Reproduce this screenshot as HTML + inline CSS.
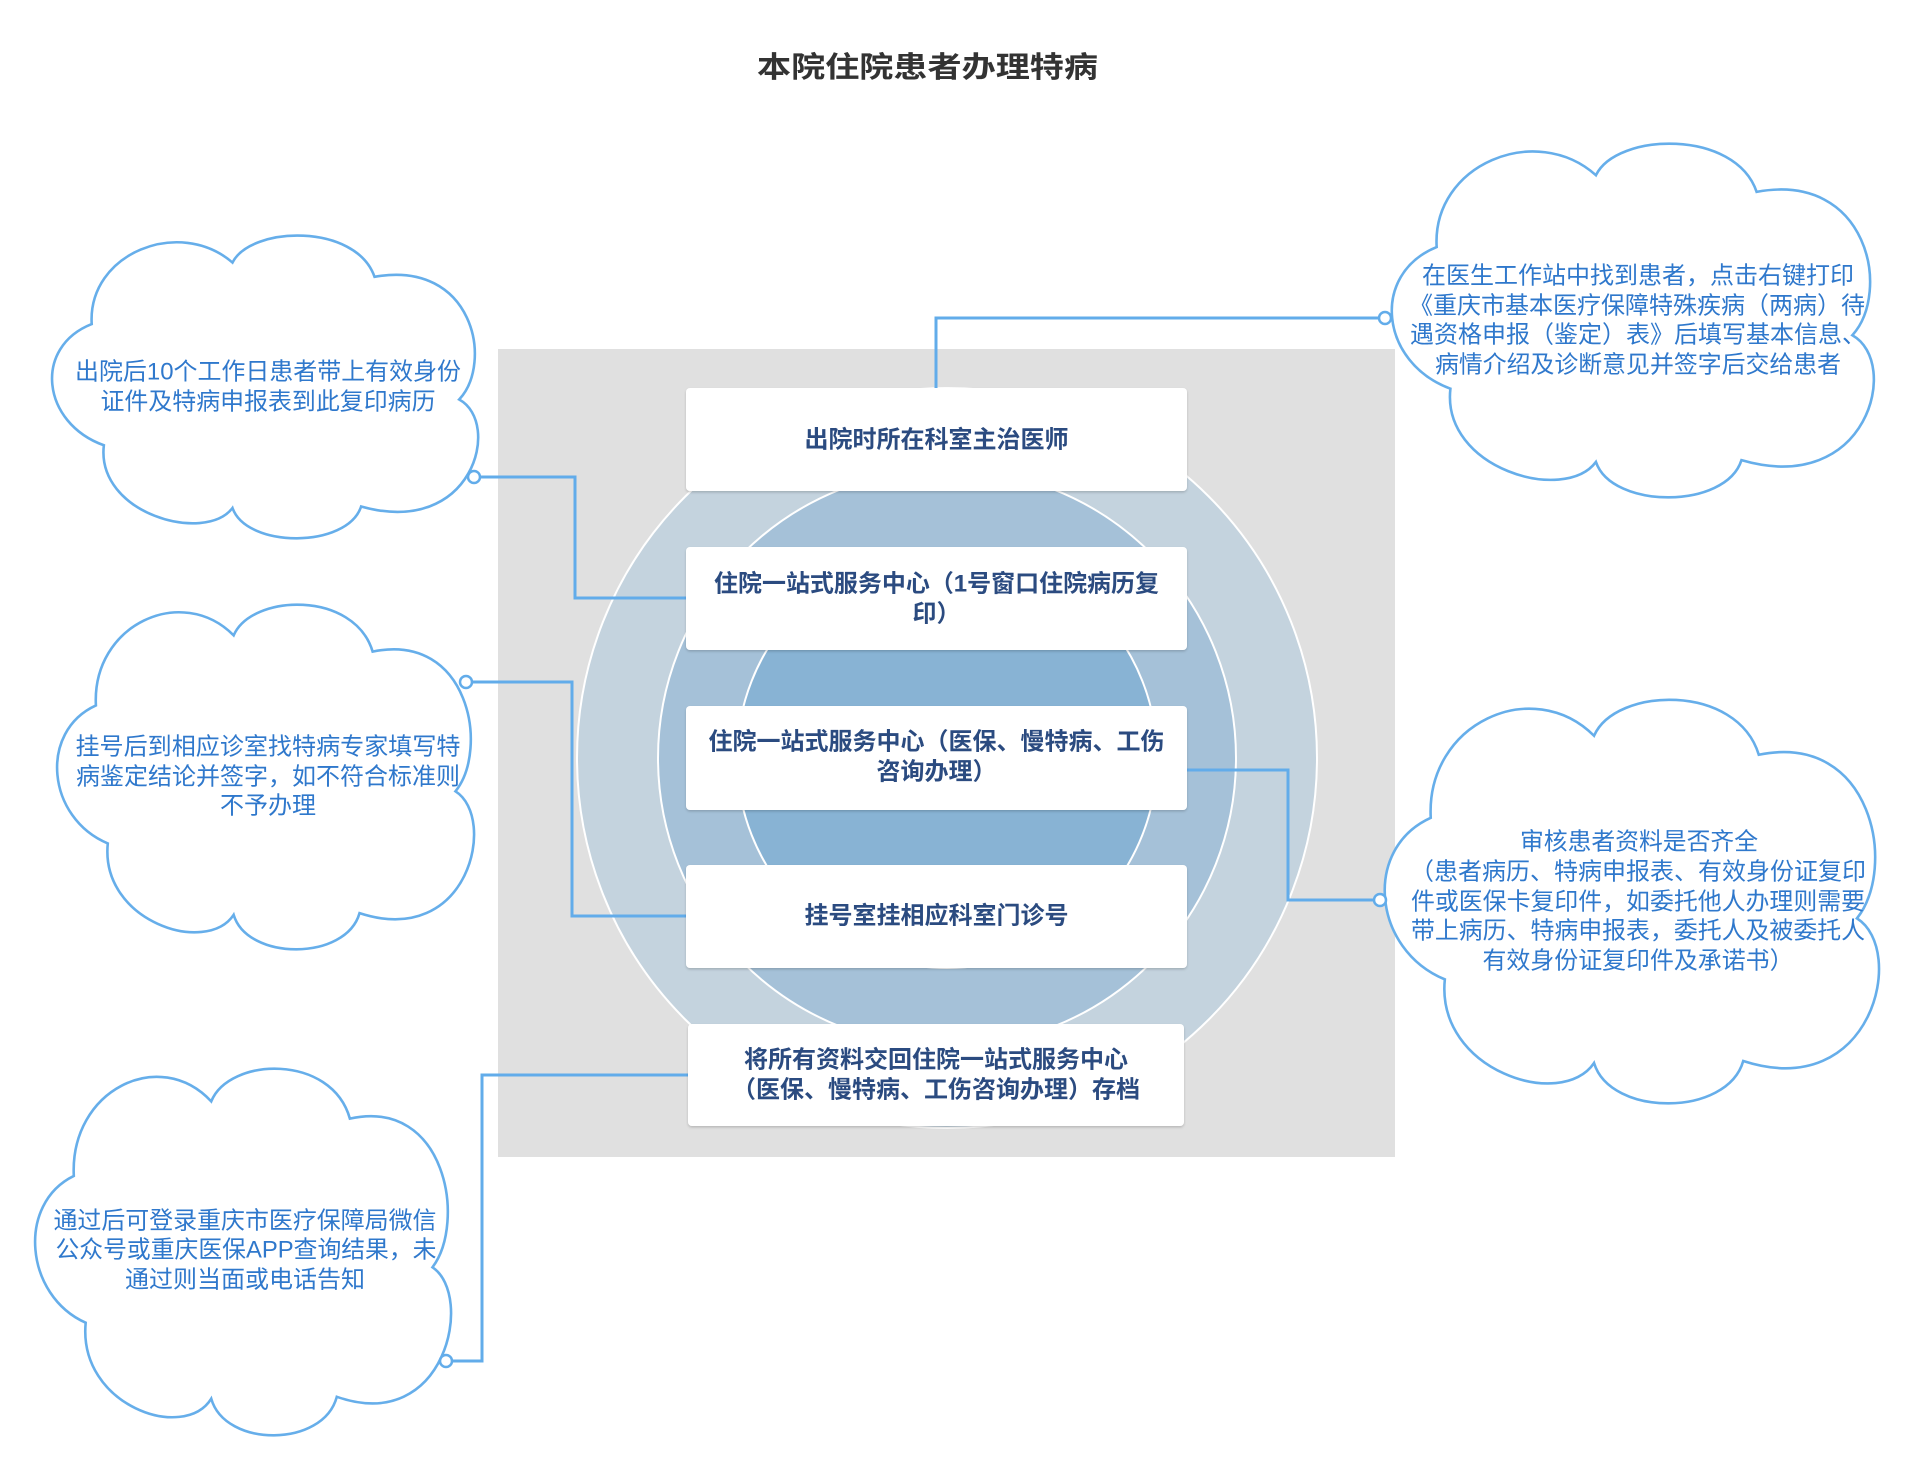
<!DOCTYPE html>
<html><head><meta charset="utf-8"><style>
html,body{margin:0;padding:0;background:#fff;}
body{width:1924px;height:1472px;overflow:hidden;}
svg text{font-family:"Liberation Sans","Noto Sans CJK SC","WenQuanYi Zen Hei",sans-serif;}
.ct{fill:#2f78cc;font-size:24px;text-anchor:middle;dominant-baseline:central;}
.bt{fill:#2b4b80;font-size:24px;font-weight:bold;text-anchor:middle;dominant-baseline:central;}
.cl{fill:#fff;stroke:#66aeea;stroke-width:2.6;}
.cn{fill:none;stroke:#62acea;stroke-width:3;}
.dot{fill:#fff;stroke:#62acea;stroke-width:2.5;}
</style></head><body>
<svg width="1924" height="1472" viewBox="0 0 1924 1472" xmlns="http://www.w3.org/2000/svg">
<defs>
<filter id="sh" x="-5%" y="-10%" width="110%" height="125%">
<feDropShadow dx="0" dy="1.5" stdDeviation="1.2" flood-color="#000" flood-opacity="0.18"/>
</filter>
</defs>

<!-- title -->
<text x="927.5" y="68" font-size="29" font-weight="bold" fill="#333" text-anchor="middle" dominant-baseline="central" textLength="341" lengthAdjust="spacingAndGlyphs">本院住院患者办理特病</text>

<!-- gray background -->
<rect x="498" y="349" width="897" height="808" fill="#e0e0e0"/>

<!-- rings -->
<circle cx="947" cy="758" r="370" fill="#c4d3de" stroke="#fff" stroke-width="2"/>
<circle cx="947" cy="758" r="289" fill="#a5c1d8" stroke="#fff" stroke-width="2"/>
<circle cx="947" cy="758" r="210" fill="#88b3d4" stroke="#fff" stroke-width="2"/>

<!-- connectors -->
<polyline class="cn" points="1379,318 936,318 936,388"/>
<polyline class="cn" points="480,477 575,477 575,598 686,598"/>
<polyline class="cn" points="472,682 572,682 572,916 686,916"/>
<polyline class="cn" points="452,1361 482,1361 482,1075 688,1075"/>
<polyline class="cn" points="1374,900 1288,900 1288,770 1187,770"/>

<!-- boxes -->
<g filter="url(#sh)" fill="#fff">
<rect x="686" y="388" width="501" height="103" rx="4"/>
<rect x="686" y="547" width="501" height="103" rx="4"/>
<rect x="686" y="706" width="501" height="104" rx="4"/>
<rect x="686" y="865" width="501" height="103" rx="4"/>
<rect x="688" y="1024" width="496" height="102" rx="4"/>
</g>
<text class="bt" x="936.5" y="440" textLength="264" lengthAdjust="spacingAndGlyphs">出院时所在科室主治医师</text>
<text class="bt" x="936.5" y="584" textLength="445" lengthAdjust="spacingAndGlyphs">住院一站式服务中心（1号窗口住院病历复</text>
<text class="bt" x="936.5" y="614" textLength="48" lengthAdjust="spacingAndGlyphs">印）</text>
<text class="bt" x="936.5" y="742" textLength="456" lengthAdjust="spacingAndGlyphs">住院一站式服务中心（医保、慢特病、工伤</text>
<text class="bt" x="936.5" y="772" textLength="120" lengthAdjust="spacingAndGlyphs">咨询办理）</text>
<text class="bt" x="936.5" y="916" textLength="264" lengthAdjust="spacingAndGlyphs">挂号室挂相应科室门诊号</text>
<text class="bt" x="936" y="1060" textLength="384" lengthAdjust="spacingAndGlyphs">将所有资料交回住院一站式服务中心</text>
<text class="bt" x="936" y="1090" textLength="408" lengthAdjust="spacingAndGlyphs">（医保、慢特病、工伤咨询办理）存档</text>

<!-- clouds -->
<g transform="translate(54,235) scale(419,303)"><path d="M 0.09 0.294 C 0.08 0.06 0.30 -0.06 0.426 0.091 C 0.47 -0.03 0.72 -0.04 0.765 0.138 C 1.0 0.08 1.05 0.42 0.967 0.543 C 1.07 0.62 1.0 1.0 0.733 0.896 C 0.70 1.035 0.46 1.035 0.426 0.901 C 0.36 1.02 0.10 0.92 0.119 0.694 C -0.03 0.62 -0.05 0.37 0.09 0.294 Z" class="cl" vector-effect="non-scaling-stroke"/></g>
<g transform="translate(59,604) scale(410,345)"><path d="M 0.09 0.294 C 0.08 0.06 0.30 -0.06 0.426 0.091 C 0.47 -0.03 0.72 -0.04 0.765 0.138 C 1.0 0.08 1.05 0.42 0.967 0.543 C 1.07 0.62 1.0 1.0 0.733 0.896 C 0.70 1.035 0.46 1.035 0.426 0.901 C 0.36 1.02 0.10 0.92 0.119 0.694 C -0.03 0.62 -0.05 0.37 0.09 0.294 Z" class="cl" vector-effect="non-scaling-stroke"/></g>
<g transform="translate(37,1068) scale(409,367)"><path d="M 0.09 0.294 C 0.08 0.06 0.30 -0.06 0.426 0.091 C 0.47 -0.03 0.72 -0.04 0.765 0.138 C 1.0 0.08 1.05 0.42 0.967 0.543 C 1.07 0.62 1.0 1.0 0.733 0.896 C 0.70 1.035 0.46 1.035 0.426 0.901 C 0.36 1.02 0.10 0.92 0.119 0.694 C -0.03 0.62 -0.05 0.37 0.09 0.294 Z" class="cl" vector-effect="non-scaling-stroke"/></g>
<g transform="translate(1394,143) scale(474,354)"><path d="M 0.09 0.294 C 0.08 0.06 0.30 -0.06 0.426 0.091 C 0.47 -0.03 0.72 -0.04 0.765 0.138 C 1.0 0.08 1.05 0.42 0.967 0.543 C 1.07 0.62 1.0 1.0 0.733 0.896 C 0.70 1.035 0.46 1.035 0.426 0.901 C 0.36 1.02 0.10 0.92 0.119 0.694 C -0.03 0.62 -0.05 0.37 0.09 0.294 Z" class="cl" vector-effect="non-scaling-stroke"/></g>
<g transform="translate(1387,699) scale(486,404)"><path d="M 0.09 0.294 C 0.08 0.06 0.30 -0.06 0.426 0.091 C 0.47 -0.03 0.72 -0.04 0.765 0.138 C 1.0 0.08 1.05 0.42 0.967 0.543 C 1.07 0.62 1.0 1.0 0.733 0.896 C 0.70 1.035 0.46 1.035 0.426 0.901 C 0.36 1.02 0.10 0.92 0.119 0.694 C -0.03 0.62 -0.05 0.37 0.09 0.294 Z" class="cl" vector-effect="non-scaling-stroke"/></g>

<!-- cloud texts -->
<text class="ct" x="268" y="372" textLength="386" lengthAdjust="spacingAndGlyphs">出院后10个工作日患者带上有效身份</text>
<text class="ct" x="268" y="402" textLength="335" lengthAdjust="spacingAndGlyphs">证件及特病申报表到此复印病历</text>

<text class="ct" x="268" y="747" textLength="385" lengthAdjust="spacingAndGlyphs">挂号后到相应诊室找特病专家填写特</text>
<text class="ct" x="268" y="777" textLength="384" lengthAdjust="spacingAndGlyphs">病鉴定结论并签字，如不符合标准则</text>
<text class="ct" x="268" y="806" textLength="96" lengthAdjust="spacingAndGlyphs">不予办理</text>

<text class="ct" x="245" y="1221" textLength="383" lengthAdjust="spacingAndGlyphs">通过后可登录重庆市医疗保障局微信</text>
<text class="ct" x="246" y="1250" textLength="381" lengthAdjust="spacingAndGlyphs">公众号或重庆医保APP查询结果，未</text>
<text class="ct" x="245" y="1280" textLength="240" lengthAdjust="spacingAndGlyphs">通过则当面或电话告知</text>

<text class="ct" x="1638" y="276" textLength="432" lengthAdjust="spacingAndGlyphs">在医生工作站中找到患者，点击右键打印</text>
<text class="ct" x="1637" y="306" textLength="456" lengthAdjust="spacingAndGlyphs">《重庆市基本医疗保障特殊疾病（两病）待</text>
<text class="ct" x="1638" y="335" textLength="456" lengthAdjust="spacingAndGlyphs">遇资格申报（鉴定）表》后填写基本信息、</text>
<text class="ct" x="1638" y="365" textLength="406" lengthAdjust="spacingAndGlyphs">病情介绍及诊断意见并签字后交给患者</text>

<text class="ct" x="1639" y="842" textLength="238" lengthAdjust="spacingAndGlyphs">审核患者资料是否齐全</text>
<text class="ct" x="1638" y="872" textLength="456" lengthAdjust="spacingAndGlyphs">（患者病历、特病申报表、有效身份证复印</text>
<text class="ct" x="1638" y="902" textLength="454" lengthAdjust="spacingAndGlyphs">件或医保卡复印件，如委托他人办理则需要</text>
<text class="ct" x="1638" y="931" textLength="454" lengthAdjust="spacingAndGlyphs">带上病历、特病申报表，委托人及被委托人</text>
<text class="ct" x="1638" y="961" textLength="311" lengthAdjust="spacingAndGlyphs">有效身份证复印件及承诺书）</text>

<!-- connector end dots -->
<circle class="dot" cx="474" cy="477" r="6"/>
<circle class="dot" cx="466" cy="682" r="6"/>
<circle class="dot" cx="446" cy="1361" r="6"/>
<circle class="dot" cx="1385" cy="318" r="6"/>
<circle class="dot" cx="1380" cy="900" r="6"/>
</svg>
</body></html>
